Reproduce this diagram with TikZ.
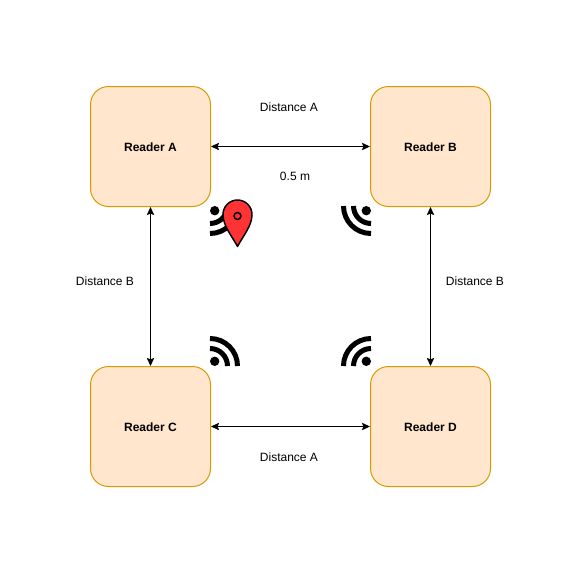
\documentclass[tikz,border=0pt]{standalone}
\usepackage{fontspec}
\setmainfont{Liberation Sans}
\usepackage{tikz}
\usetikzlibrary{arrows.meta,positioning}
\definecolor{rdfill}{RGB}{255,230,204}
\definecolor{rdline}{RGB}{215,155,0}
\definecolor{pinred}{RGB}{255,51,51}
\tikzstyle{reader} = [draw=rdline, fill=rdfill, line width=0.75pt, rounded corners=13.5pt, minimum width=90pt, minimum height=90pt, inner sep=0pt, font=\fontsize{9}{11}\selectfont\bfseries, text depth=0pt, text height=8.2pt]
\tikzstyle{dist} = [font=\fontsize{9}{11}\selectfont, inner sep=0pt]
\tikzstyle{arrow} = [line width=0.75pt, {Stealth[length=6pt,width=5.5pt,inset=1pt]}-{Stealth[length=6pt,width=5.5pt,inset=1pt]}, color=black]

\begin{document}
\begin{tikzpicture}[x=0.75pt, y=-0.75pt]
\useasboundingbox (0,0) rectangle (561,561);

% Readers
\node[reader] (readerA) at (150.5,146.5) {Reader A};
\node[reader] (readerB) at (430.5,146.5) {Reader B};
\node[reader] (readerC) at (150.5,426.5) {Reader C};
\node[reader] (readerD) at (430.5,426.5) {Reader D};

% Distances
\draw[arrow] (readerA) -- (readerB);
\draw[arrow] (readerC) -- (readerD);
\draw[arrow] (readerA) -- (readerC);
\draw[arrow] (readerB) -- (readerD);

% Labels
\node[dist] (distAtop) at (289,107.3) {Distance A};
\node[dist] (size) at (295,176.8) {0.5 m};
\node[dist] (distBleft) at (105,281.3) {Distance B};
\node[dist] (distBright) at (475,281.3) {Distance B};
\node[dist] (distAbot) at (289,456.8) {Distance A};

% Signal icons
\foreach \cx/\cy/\sx/\sy in {210/206/1/1, 371/206/-1/1, 210/366/1/-1, 371/366/-1/-1} {
  \begin{scope}[shift={(\cx,\cy)}, xscale=\sx, yscale=\sy]
    \fill[black] (4.7,4.7) circle (4.7);
    \draw[black, line width=3.75pt] (17.5,0) arc[start angle=0, end angle=90, radius=17.5];
    \draw[black, line width=3.75pt] (27.5,0) arc[start angle=0, end angle=90, radius=27.5];
  \end{scope}
}

% Pin
\draw[black, fill=pinred, line width=1.1pt, line join=round] (237.5,246.5) .. controls (232,236) and (223,226) .. (223,214.5) arc[start angle=180, end angle=360, radius=14.5] .. controls (252,226) and (243,236) .. cycle;
\draw[black, fill=pinred, line width=1.1pt] (237.5,216) circle (3.5);
\end{tikzpicture}
\end{document}
